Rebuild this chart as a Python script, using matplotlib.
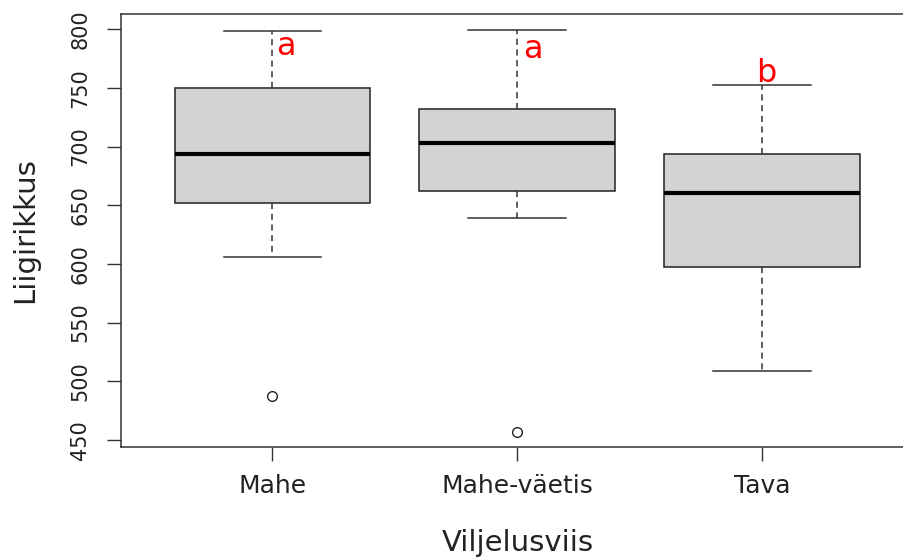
import matplotlib.pyplot as plt

groups = ["Mahe", "Mahe-väetis", "Tava"]
whisker_low = [606, 639, 508.5]
q1 = [652, 662, 597.7]
medians = [693.2, 703.2, 660.1]
q3 = [749.8, 732.2, 693.2]
whisker_high = [798.6, 799, 752.1]
outliers = [[487.2], [456.7], []]
letters = ["a", "a", "b"]
letter_x = [1.056, 2.064, 3.015]
letter_y = [777.8, 775, 755]

stats = []
for i, g in enumerate(groups):
    stats.append({"label": g, "whislo": whisker_low[i], "q1": q1[i], "med": medians[i],
                  "q3": q3[i], "whishi": whisker_high[i], "fliers": outliers[i]})

fig = plt.figure(figsize=(9.04, 5.59), dpi=100)
ax = fig.add_axes([0.1335, 0.2009, 0.8776, 0.7735])

ax.bxp(stats, positions=[1, 2, 3], widths=0.8, capwidths=0.4, patch_artist=True,
       boxprops=dict(facecolor="#d3d3d3", edgecolor="#222222", linewidth=1.1),
       medianprops=dict(color="black", linewidth=3),
       whiskerprops=dict(color="#333333", linewidth=1.1, linestyle=(0, (4, 3))),
       capprops=dict(color="#333333", linewidth=1.1),
       flierprops=dict(marker="o", markerfacecolor="none", markeredgecolor="#222222",
                       markersize=7, markeredgewidth=1))

for x, y, t in zip(letter_x, letter_y, letters):
    ax.text(x, y, t, color="red", fontsize=23, ha="center", va="baseline")

ax.set_xlim(0.38, 3.62)
ax.set_ylim(444.3, 812.6)
ax.set_yticks([450, 500, 550, 600, 650, 700, 750, 800])
ax.set_xticks([1, 2, 3])
ax.set_xticklabels(groups)

ax.tick_params(axis="both", length=10, width=1, color="#333333")
ax.tick_params(axis="x", labelsize=18, pad=10, labelcolor="#222222")
ax.tick_params(axis="y", labelsize=15, pad=12, labelrotation=90, labelcolor="#222222")
for lab in ax.get_yticklabels():
    lab.set_verticalalignment("center")

for s in ax.spines.values():
    s.set_color("#333333")
    s.set_linewidth(1.1)
ax.spines["right"].set_visible(False)

ax.set_xlabel("Viljelusviis", fontsize=21, color="#222222", va="center")
ax.xaxis.set_label_coords(0.5, -0.2227)
ax.set_ylabel("Liigirikkus", fontsize=21, color="#222222", va="center")
ax.yaxis.set_label_coords(-0.1206, 0.5)

fig.savefig("out.png", dpi=100)
